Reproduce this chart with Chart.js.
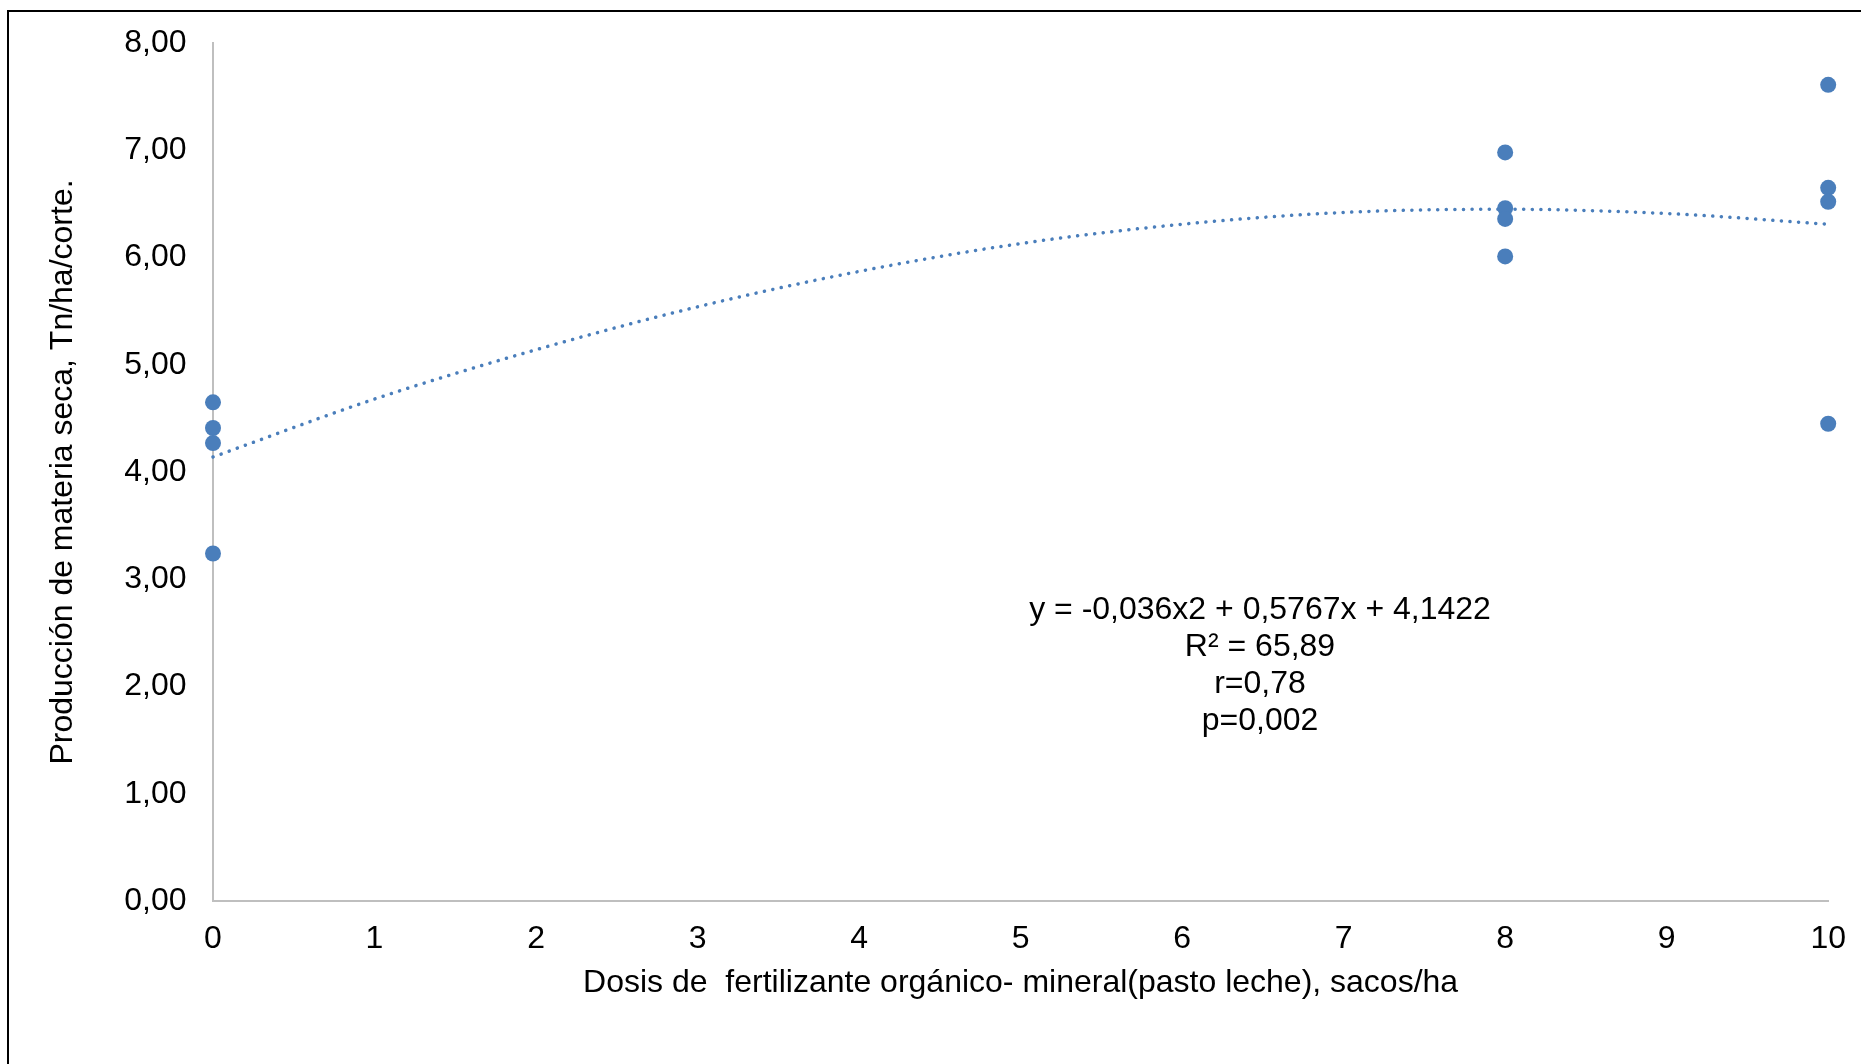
<!DOCTYPE html>
<html>
<head>
<meta charset="utf-8">
<script src="https://cdn.jsdelivr.net/npm/chart.js@4.4.1/dist/chart.umd.min.js"></script>
<style>
    html, body { margin: 0; padding: 0; background: #fff; overflow: hidden; }
    #wrap { position: relative; width: 1861px; height: 1064px; }
    #frame {
        position: absolute; left: 7px; top: 10px; width: 1900px; height: 1100px;
        border: 2px solid #000; box-sizing: border-box; pointer-events: none;
    }
    canvas { position: absolute; left: 0; top: 0; }
</style>
</head>
<body>
<div id="wrap">
    <canvas id="chart" width="1861" height="1064"></canvas>
    <div id="frame"></div>
</div>
<script>
// observed points (dose, production)
const doseX = [0, 0, 0, 0, 8, 8, 8, 8, 10, 10, 10, 10];
const produccion = [4.65, 4.41, 4.27, 3.24, 6.98, 6.46, 6.36, 6.01, 7.61, 6.65, 6.52, 4.45];

// polynomial trend line
const trendX = [0, 1, 2, 3, 4, 5, 6, 7, 8, 9, 10];
const trendY = [4.14, 4.68, 5.14, 5.54, 5.87, 6.13, 6.31, 6.42, 6.45, 6.41, 6.31];

const annotationLines = ['y = -0,036x2 + 0,5767x + 4,1422', 'R² = 65,89', 'r=0,78', 'p=0,002'];

const blue = '#4A7EBB';
const axisGray = '#BFBFBF';
const font = 'Liberation Sans, Arial, sans-serif';
const fontSize = 32;

// draws the regression text block
const annotationPlugin = {
    id: 'annotation',
    afterDatasetsDraw(chart) {
        const ctx = chart.ctx;
        ctx.save();
        ctx.fillStyle = '#000';
        ctx.font = fontSize + 'px ' + font;
        ctx.textAlign = 'center';
        ctx.textBaseline = 'middle';
        annotationLines.forEach((line, i) => {
            ctx.fillText(line, 1260, 610 + i * 37);
        });
        ctx.restore();
    }
};

new Chart(document.getElementById('chart'), {
    type: 'scatter',
    data: {
        datasets: [
            {
                label: 'Producción',
                data: doseX.map((x, i) => ({ x: x, y: produccion[i] })),
                backgroundColor: blue,
                borderColor: blue,
                pointRadius: 8,
                pointBorderWidth: 0,
                clip: false
            },
            {
                label: 'Tendencia',
                type: 'line',
                data: trendX.map((x, i) => ({ x: x, y: trendY[i] })),
                borderColor: blue,
                borderWidth: 3.5,
                borderDash: [0.1, 8.5],
                borderCapStyle: 'round',
                pointRadius: 0,
                cubicInterpolationMode: 'monotone',
                fill: false,
                clip: false
            }
        ]
    },
    options: {
        responsive: false,
        animation: false,
        layout: { padding: { left: 0, top: 43, right: 10, bottom: 53 } },
        plugins: {
            legend: { display: false },
            tooltip: { enabled: false }
        },
        scales: {
            x: {
                type: 'linear',
                min: 0,
                max: 10,
                ticks: {
                    stepSize: 1,
                    color: '#000',
                    font: { family: font, size: fontSize, lineHeight: 1.45 },
                    padding: 15
                },
                grid: { display: false, drawTicks: false },
                border: { display: true, color: axisGray, width: 2 },
                title: {
                    display: true,
                    text: 'Dosis de  fertilizante orgánico- mineral(pasto leche), sacos/ha',
                    color: '#000',
                    font: { family: font, size: fontSize },
                    padding: { top: 0, bottom: 9 }
                },
                afterFit: scale => { scale.height = 110; }
            },
            y: {
                min: 0,
                max: 8,
                ticks: {
                    stepSize: 1,
                    color: '#000',
                    font: { family: font, size: fontSize, lineHeight: 1 },
                    padding: 26.5,
                    callback: v => v.toFixed(2).replace('.', ',')
                },
                grid: { display: false, drawTicks: false },
                border: { display: true, color: axisGray, width: 2 },
                title: {
                    display: true,
                    text: 'Producción de materia seca, Tn/ha/corte.',
                    color: '#000',
                    font: { family: font, size: fontSize },
                    padding: { top: 43.5, bottom: 0 }
                },
                afterFit: scale => { scale.width = 213; }
            }
        }
    },
    plugins: [annotationPlugin]
});
</script>
</body>
</html>
